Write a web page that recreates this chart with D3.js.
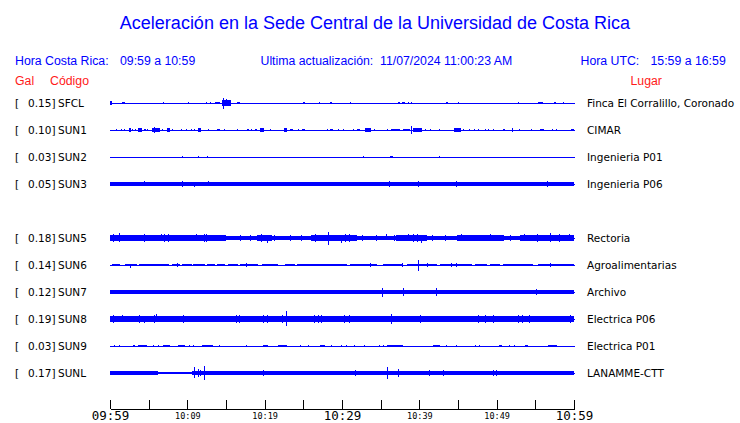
<!DOCTYPE html>
<html><head><meta charset="utf-8">
<script src="https://cdn.jsdelivr.net/npm/d3@7"></script>
<style>
html,body{margin:0;padding:0;background:#fff;}
svg{display:block;}
</style></head>
<body>
<svg id="c" width="740" height="423"></svg>
<script>
// ---------------- DATA ----------------
const title = "Aceleración en la Sede Central de la Universidad de Costa Rica";
const codes  = ["SFCL","SUN1","SUN2","SUN3","SUN5","SUN6","SUN7","SUN8","SUN9","SUNL"];
const gal    = ["0.15","0.10","0.03","0.05","0.18","0.14","0.12","0.19","0.03","0.17"];
const places = ["Finca El Corralillo, Coronado","CIMAR","Ingenieria P01","Ingenieria P06",
                "Rectoria","Agroalimentarias","Archivo","Electrica P06","Electrica P01","LANAMME-CTT"];
const rowSlot = [0,1,2,3,5,6,7,8,9,10];           // SUN4 slot (4) is empty
const tickMinutes = [0,5,10,15,20,25,30,35,40,45,50,55,60];
const tickLabels  = {0:"09:59",10:"10:09",20:"10:19",30:"10:29",40:"10:39",50:"10:49",60:"10:59"};
const majorTicks  = [0,30,60];

// Noise bands: [startMinute, endMinute, halfAmplitude (Gal)]
const bands = [
  [[0,0.25,0.04],[1.6,1.9,0.035],[12.9,13.1,0.03],[13.6,14.2,0.035],[14.44,15.65,0.065],[16.4,16.8,0.035],[24.9,25.2,0.03],[28.4,28.7,0.03],[37.2,37.5,0.035],[37.8,38.1,0.035],[43.45,43.75,0.035],[55.4,55.95,0.035],[57.45,57.7,0.035]],
  [[2.45,2.7,0.04],[3.65,4.1,0.04],[4.45,4.6,0.03],[5.4,6.45,0.04],[7.4,7.75,0.04],[11.4,11.75,0.045],[13.8,14.2,0.035],[17.7,18,0.035],[18.75,19.05,0.035],[19.4,19.95,0.04],[22.5,22.85,0.04],[23.3,23.7,0.035],[24.8,25.2,0.035],[28.45,28.8,0.035],[31.9,32.35,0.03],[33,33.7,0.04],[36.4,37.5,0.03],[37.9,38.8,0.035],[39.2,40.4,0.04],[44.5,45.35,0.04],[50.85,51.05,0.035],[55.6,56.1,0.03],[59.6,60,0.035]],
  [[36.2,36.55,0.03]],
  [[0,60,0.045]],
  [[0,1,0.08],[1,2,0.075],[2,4,0.065],[4,5,0.075],[5,6,0.065],[6,7,0.07],[7,8,0.08],[8,9,0.065],[9,10,0.07],[10,11,0.065],[11,12,0.07],[12,13,0.075],[13,14,0.07],[14,15,0.065],[15,16,0.06],[16,17,0.055],[17,19,0.06],[19,20,0.07],[20,21,0.075],[21,24,0.055],[24,26,0.06],[26,28,0.07],[28,29,0.07],[29,30,0.07],[30,31,0.075],[31,32,0.07],[32,33,0.06],[33,34,0.055],[34,35,0.05],[35,37,0.06],[37,38,0.065],[38,39,0.07],[39,40,0.075],[40,41,0.07],[41,43,0.06],[43,44,0.055],[44,45,0.06],[45,47,0.065],[47,49,0.065],[49,50,0.07],[50,51,0.065],[51,53,0.06],[53,55,0.065],[55,56,0.07],[56,57,0.065],[57,58,0.07],[58,59,0.065],[59,60,0.075]],
  [[0.3,1.29,0.03],[2.0,3.45,0.03],[3.8,7.6,0.03],[8.0,9.05,0.03],[9.26,10.56,0.03],[10.77,12.28,0.03],[12.5,13.57,0.03],[13.79,14.87,0.03],[15.21,16.59,0.03],[16.8,19.18,0.03],[19.61,21.76,0.03],[22.63,23.92,0.03],[24.13,30.6,0.03],[31.03,34.48,0.03],[35.34,37.93,0.03],[38.36,42.24,0.03],[42.67,46.77,0.03],[47.2,48.7,0.03],[49.14,50.43,0.03],[50.86,54.74,0.03],[55.39,60,0.03]],
  [[0,60,0.04],[0.86,1.42,0.06],[16.8,17.45,0.055],[21.76,22.6,0.055],[25.2,25.85,0.05],[50.0,50.43,0.05]],
  [[0,60,0.065],[0,2.37,0.072],[3.23,4.95,0.072],[5.38,6.25,0.08],[9.05,9.91,0.075],[15.73,17.02,0.078],[19.61,20.9,0.08],[21.98,22.84,0.082],[26.07,27.8,0.078],[29.74,32.33,0.072],[36.0,36.85,0.085],[39.65,40.95,0.072],[46.98,50.43,0.078],[52.15,54.74,0.08]],
  [[3.66,4.74,0.025],[6.89,7.76,0.025],[8.83,9.7,0.03],[11.85,13.36,0.03],[19.82,20.47,0.025],[21.76,22.84,0.025],[27.15,27.8,0.025],[35.77,37.93,0.03],[41.81,42.67,0.025],[50.34,50.65,0.025],[53.66,54.1,0.025],[56.68,57.76,0.02]],
  [[0,0.6,0.05],[0.6,6.2,0.04],[6.2,10.6,0.035],[10.6,59.05,0.04],[59.05,60,0.05]]
];

// Spikes: [minute, up (Gal), down (Gal)]
const spikes = [
  [[6.9,0.02,0.02],[10.1,0.035,0.035],[12.5,0.02,0.01],[14.65,0.13,0.15],[15.1,0.1,0.085],[27.15,0.02,0.01],[31.1,0.02,0],[31.5,0,0.02],[31.7,0,0.02],[38.6,0.02,0.02],[38.95,0.03,0.03],[45.05,0.03,0.03],[52.85,0.03,0.03],[58.6,0.02,0]],
  [[0.9,0.025,0.025],[1.5,0.025,0.025],[1.85,0.03,0.03],[2.5,0.055,0.055],[2.9,0.025,0.025],[3.3,0.03,0.03],[4.9,0.025,0.025],[5.8,0.065,0.065],[6.75,0.025,0.025],[8.1,0.03,0.03],[9.2,0.03,0.03],[9.95,0.03,0.03],[10.5,0.025,0.025],[10.9,0.025,0.025],[11.5,0.06,0.06],[12.7,0.025,0.025],[14.8,0.025,0.025],[16.5,0.03,0.03],[18.3,0.025,0.025],[19.6,0.05,0.05],[20.7,0.025,0.025],[22.6,0.05,0.05],[24.35,0.025,0.025],[28.15,0.025,0.025],[29.5,0.025,0.025],[30.2,0.025,0.025],[31.45,0.025,0.025],[33.4,0.02,0.05],[34.2,0.035,0.035],[35.85,0.025,0.025],[38.95,0.1,0.1],[40.75,0.025,0.025],[41.45,0.03,0.03],[42.6,0.025,0.025],[45.7,0.03,0.03],[46.45,0.025,0.025],[47.1,0.025,0.025],[47.6,0.025,0.025],[48.5,0.025,0.025],[48.9,0.03,0.03],[49.55,0.025,0.025],[52.05,0.04,0.04],[53.0,0.025,0.025],[54.5,0.025,0.025],[57.25,0.025,0.025],[57.7,0.025,0.025],[59.8,0.025,0.025]],
  [[9.35,0.03,0.03],[11.4,0.03,0.03],[12.6,0.02,0],[32.75,0.015,0],[42.65,0.015,0]],
  [[4.5,0.075,0],[9.35,0.08,0.08],[10.9,0,0.07],[12.7,0.075,0],[36.2,0.08,0.08],[39.9,0.08,0.08],[44.75,0.08,0.08],[56.55,0.08,0.08]],
  [[0.4,0.09,0.09],[1.29,0.13,0.1],[2.3,0.085,0.085],[3.5,0.08,0.08],[4.5,0.09,0.09],[5.2,0.08,0.08],[6.6,0.09,0.08],[7.1,0.11,0.11],[7.6,0.09,0.09],[8.8,0.08,0.08],[10.3,0.085,0.085],[11.2,0.09,0.08],[12.2,0.1,0.1],[12.5,0.1,0.09],[13.3,0.08,0.08],[14.7,0.075,0.075],[16.9,0.075,0.07],[18.2,0.075,0.075],[19.6,0.1,0.09],[20.34,0.06,0.12],[21.3,0.07,0.07],[23.4,0.07,0.07],[24.8,0.075,0.07],[26.6,0.09,0.09],[27.4,0.085,0.085],[28.23,0.16,0.18],[29.96,0,0.12],[30.5,0.09,0.09],[31,0.09,0.09],[32.6,0.075,0.075],[34.4,0.07,0.07],[35.77,0.11,0.06],[36.8,0.08,0.075],[37.4,0.075,0.08],[38.58,0.1,0.08],[39.2,0.09,0.09],[39.74,0.1,0.1],[40.34,0.06,0.13],[41.7,0.08,0.08],[43.4,0.07,0.07],[44.9,0.08,0.08],[45.47,0.1,0.07],[46.5,0.085,0.085],[47.9,0.08,0.08],[49.14,0.1,0.08],[50.6,0.08,0.08],[51.8,0.075,0.075],[53.66,0.1,0.07],[55.3,0.09,0.09],[56.98,0.13,0.1],[58.1,0.09,0.09],[59.48,0.1,0.08]],
  [[2.67,0,0.07],[8.75,0.045,0.045],[17.67,0.045,0.045],[33.7,0.05,0.05],[37.8,0.05,0.05],[39.91,0.12,0.14],[41.08,0.045,0.045],[44.18,0.05,0.05],[44.83,0.05,0.05],[56.9,0.04,0.04]],
  [[6.16,0.05,0.04],[8.1,0.05,0.04],[9.91,0.055,0.05],[10.77,0.06,0.06],[12.5,0.055,0.05],[15.21,0.055,0.05],[16.16,0.055,0.05],[19.26,0.055,0.05],[23.06,0.055,0.05],[23.79,0.055,0.055],[27.58,0.05,0.045],[29.96,0.055,0.05],[31.25,0.055,0.05],[34.05,0.055,0.05],[35.21,0.1,0.12],[37.93,0.09,0.1],[39.65,0.05,0.05],[42.24,0.11,0.1],[44.31,0.06,0.06],[47.2,0.05,0.05],[48.27,0.05,0.05],[51.3,0.05,0.05],[52.15,0.05,0.05],[53.02,0.05,0.05],[54.65,0.06,0.06],[55.17,0.07,0.07],[57.33,0.045,0.045]],
  [[0.5,0.09,0.09],[1.6,0.09,0.085],[3.8,0.09,0.09],[4.5,0.085,0.09],[5.7,0.1,0.09],[6.03,0.12,0.08],[9.5,0.1,0.09],[16.3,0.1,0.1],[16.8,0.09,0.09],[19.9,0.09,0.09],[20.34,0.1,0.1],[22.3,0.1,0.1],[22.84,0.19,0.17],[26.5,0.09,0.09],[26.9,0.1,0.1],[27.4,0.09,0.09],[30.3,0.09,0.09],[31,0.1,0.09],[36.4,0.12,0.12],[40.2,0.09,0.09],[47.6,0.09,0.09],[48.5,0.1,0.1],[49.6,0.09,0.09],[52.8,0.09,0.09],[53.3,0.11,0.1],[54.2,0.09,0.09],[59.5,0.09,0.09]],
  [[0.56,0.02,0.02],[1.29,0.02,0.02],[3.02,0.025,0.02],[3.14,0.025,0.02],[5.6,0.02,0.02],[6.25,0.02,0.02],[10.34,0.02,0.02],[10.77,0.02,0.02],[14.22,0.02,0.02],[17.67,0.02,0.02],[24.57,0.02,0.02],[25.64,0.02,0.02],[28.66,0.02,0.02],[29.96,0.02,0.02],[30.6,0.02,0.02],[31.68,0.02,0.02],[32.97,0.02,0.02],[34.91,0.02,0.02],[35.34,0.02,0.02],[43.53,0.015,0.015],[44.83,0.02,0.02],[47.2,0.02,0.02],[47.84,0.02,0.02],[51.72,0.015,0.015],[52.37,0.015,0.015]],
  [[0.43,0.055,0.055],[5.82,0.055,0.055],[10.9,0.15,0.13],[11.42,0.1,0.1],[11.76,0.08,0.08],[12.2,0.17,0.17],[19.82,0.065,0.065],[20.0,0.06,0.06],[26.07,0.045,0.045],[29.9,0.06,0.06],[31.81,0.065,0.065],[32.54,0.05,0.05],[35.86,0.15,0.16],[37.28,0.1,0.1],[41.29,0.065,0.065],[43.1,0.065,0.065],[44.83,0.05,0.05],[49.57,0.07,0.07],[50.0,0.07,0.07],[53.66,0.055,0.055],[54.31,0.06,0.06],[56.12,0.045,0.045]]
];

// ---------------- DRAW ----------------
const svg = d3.select("#c");
const BLUE = "#0000ff", RED = "#ff1a1a";
const x = d3.scaleLinear().domain([0,60]).range([110,574]);
const row = d3.scaleLinear().domain([0,10]).range([103,373]);
const amp = d3.scaleLinear().domain([-0.25,0.25]).range([10,-10]);

svg.append("text").attr("x",375).attr("y",29).attr("text-anchor","middle")
  .attr("font-family","Liberation Sans, Arial, sans-serif").attr("font-size",18)
  .attr("fill",BLUE).text(title);

const hdr = svg.append("g").attr("font-family","Liberation Sans, Arial, sans-serif")
  .attr("font-size",12.3).attr("fill",BLUE);
hdr.append("text").attr("x",15).attr("y",65).text("Hora Costa Rica:");
hdr.append("text").attr("x",120).attr("y",65).text("09:59 a 10:59");
hdr.append("text").attr("x",260.5).attr("y",65).text("Ultima actualización:");
hdr.append("text").attr("x",380).attr("y",65).text("11/07/2024 11:00:23 AM");
hdr.append("text").attr("x",580.5).attr("y",65).text("Hora UTC:");
hdr.append("text").attr("x",650.5).attr("y",65).text("15:59 a 16:59");

const red = svg.append("g").attr("font-family","Liberation Sans, Arial, sans-serif")
  .attr("font-size",12.3).attr("fill",RED);
red.append("text").attr("x",15).attr("y",85).text("Gal");
red.append("text").attr("x",50).attr("y",85).text("Código");
red.append("text").attr("x",630.5).attr("y",85).text("Lugar");

const lab = svg.append("g").attr("font-family","DejaVu Sans, sans-serif").attr("font-size",10.5).attr("fill","#000");

codes.forEach((code,i) => {
  const y0 = row(rowSlot[i]);
  lab.append("text").attr("x",15).attr("y",y0+3.8).text("[");
  lab.append("text").attr("x",55.5).attr("y",y0+3.8).attr("text-anchor","end").text(gal[i]+"]");
  lab.append("text").attr("x",58).attr("y",y0+3.8).text(code);
  lab.append("text").attr("x",587).attr("y",y0+3.8).text(places[i]);

  const g = svg.append("g").attr("transform",`translate(0,${y0})`)
    .attr("fill",BLUE).attr("shape-rendering","crispEdges");
  g.append("rect").attr("x",x(0)).attr("y",-0.5).attr("width",x(60)-x(0)+1).attr("height",1);
  g.selectAll("rect.b").data(bands[i]).join("rect").attr("class","b")
    .attr("x",d=>x(d[0])).attr("width",d=>Math.max(1,x(d[1])-x(d[0])))
    .attr("y",d=>amp(d[2])).attr("height",d=>amp(-d[2])-amp(d[2]));
  g.selectAll("rect.s").data(spikes[i]).join("rect").attr("class","s")
    .attr("x",d=>Math.floor(x(d[0]))).attr("width",1.2)
    .attr("y",d=>Math.min(amp(d[1]),-0.5)).attr("height",d=>Math.max(amp(-d[2]),0.5)-Math.min(amp(d[1]),-0.5));
});

// time axis
const axis = d3.axisBottom(x).tickValues(tickMinutes).tickSizeInner(-9).tickSizeOuter(0)
  .tickFormat(m => tickLabels[m] !== undefined ? tickLabels[m] : "");
const ag = svg.append("g").attr("transform","translate(0,409)").call(axis);
ag.select(".domain").attr("stroke","#000").attr("shape-rendering","crispEdges");
ag.selectAll(".tick line").attr("stroke","#000").attr("shape-rendering","crispEdges");
ag.selectAll(".tick text")
  .attr("fill","#000")
  .attr("font-family","DejaVu Sans Mono, monospace")
  .attr("dy",0)
  .attr("font-size",m => majorTicks.includes(m) ? 12.5 : 8.5)
  .attr("y",m => majorTicks.includes(m) ? 10.8 : 9.8);
</script>
</body></html>
